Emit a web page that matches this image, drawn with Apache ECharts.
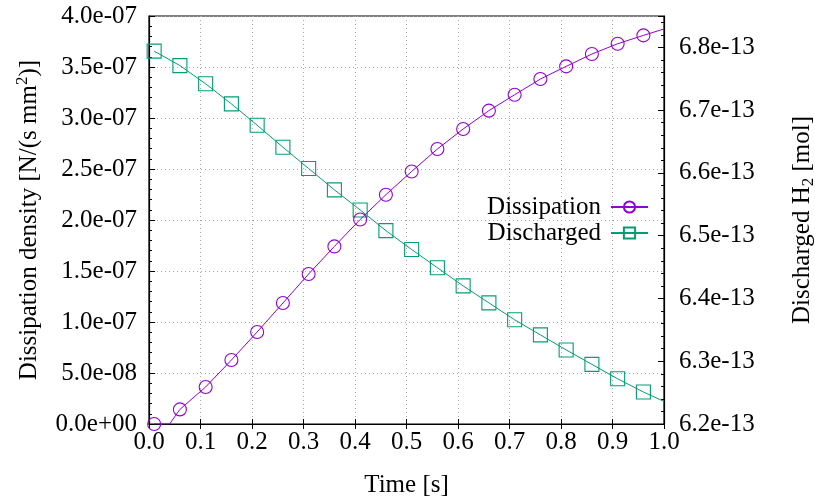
<!DOCTYPE html>
<html>
<head>
<meta charset="utf-8">
<script src="https://cdn.jsdelivr.net/npm/echarts@6/dist/echarts.min.js"></script>
<style>
  html, body { margin: 0; padding: 0; background: #fff; }
  #chart { width: 815px; height: 504px; }
</style>
</head>
<body>
<div id="chart"></div>
<script>
// Sample times with markers [s]
const markerTime = [0.01, 0.06, 0.11, 0.16, 0.21, 0.26, 0.31, 0.36, 0.41, 0.46,
                    0.51, 0.56, 0.61, 0.66, 0.71, 0.76, 0.81, 0.86, 0.91, 0.96];
// Dissipation density at the marker times [1e-7 N/(s mm^2)]
const dissipation = [0.000, 0.143, 0.363, 0.627, 0.902, 1.186, 1.471, 1.741, 2.005, 2.248,
                     2.476, 2.696, 2.892, 3.072, 3.228, 3.382, 3.506, 3.627, 3.728, 3.810];
// Discharged H2 at the marker times [1e-13 mol]
const discharged = [6.794, 6.771, 6.742, 6.710, 6.676, 6.641, 6.607, 6.573, 6.541, 6.508,
                    6.478, 6.449, 6.420, 6.393, 6.366, 6.342, 6.318, 6.295, 6.272, 6.251];
// Additional curve samples without markers: [time, value]
const dissipationExtra = [[0.04, 0.000], [1.00, 3.873]];
const dischargedExtra = [[1.00, 6.236]];

const xTicks = { min: 0, max: 1, interval: 0.1 };
const leftTicks = { min: 0, max: 4, interval: 0.5 };       // units of 1e-7
const rightTicks = { min: 6.2, max: 6.85, interval: 0.1 }; // units of 1e-13

const FONT = 'Liberation Serif';
const FS = 25;
const violet = '#9400d3';
const green = '#009e73';

function expLabel(v) {
  const s = (v * 1e-7).toExponential(1);      // e.g. "5.0e-8"
  const m = s.match(/^(-?[\d.]+)e([+-])(\d+)$/);
  if (!m) return s;
  return m[1] + 'e' + m[2] + m[3].padStart(2, '0');
}

function buildSeriesData(times, values, extra) {
  const pts = times.map((t, i) => ({ value: [t, values[i]] }));
  extra.forEach(p => pts.push({ value: p, symbol: 'none' }));
  pts.sort((a, b) => a.value[0] - b.value[0]);
  return pts;
}

// Axis titles with raised / lowered indices
const nameStyle = {
  fontFamily: FONT, fontSize: FS, color: '#000', lineHeight: 30,
  rich: {
    sup: { fontFamily: FONT, fontSize: 17, color: '#000', lineHeight: 17, verticalAlign: 'top' },
    sub: { fontFamily: FONT, fontSize: 17, color: '#000', lineHeight: 17, verticalAlign: 'bottom' }
  }
};

const gridLine = { show: true, lineStyle: { color: '#a8a8a8', type: [1, 3], width: 1 } };

const chart = echarts.init(document.getElementById('chart'), null, { renderer: 'canvas' });
chart.setOption({
  animation: false,
  backgroundColor: '#fff',
  textStyle: { fontFamily: FONT },
  grid: {
    left: 149, right: 151, top: 16, bottom: 80,
    outerBoundsMode: 'none',
    containLabel: false,
    show: true, borderColor: '#000', borderWidth: 1.2, backgroundColor: 'transparent'
  },
  legend: {
    orient: 'vertical',
    right: 166, top: 194,
    padding: 0,
    align: 'right',
    itemWidth: 37, itemHeight: 14, itemGap: 0,
    textStyle: { fontFamily: FONT, fontSize: FS, color: '#000', lineHeight: 26, padding: [0, 5, 0, 0] },
    data: ['Dissipation', 'Discharged']
  },
  xAxis: [{
    type: 'value',
    min: xTicks.min, max: xTicks.max, interval: xTicks.interval,
    name: 'Time [s]',
    nameLocation: 'middle', nameGap: 49,
    nameTextStyle: { fontFamily: FONT, fontSize: FS, color: '#000' },
    axisLine: { show: true, onZero: false, lineStyle: { color: '#000', width: 1.2 } },
    axisTick: { show: true, inside: true, length: 5, lineStyle: { color: '#000' } },
    minorTick: { show: false },
    axisLabel: { fontFamily: FONT, fontSize: FS, color: '#000', margin: 6,
                 formatter: v => v.toFixed(1) },
    splitLine: gridLine
  }, {
    type: 'value', position: 'top',
    min: xTicks.min, max: xTicks.max, interval: xTicks.interval,
    axisLine: { show: false },
    axisTick: { show: true, inside: true, length: 5, lineStyle: { color: '#000' } },
    axisLabel: { show: false },
    splitLine: { show: false }
  }],
  yAxis: [{
    type: 'value',
    min: leftTicks.min, max: leftTicks.max, interval: leftTicks.interval,
    name: 'Dissipation density [N/(s mm{sup|2})]',
    nameLocation: 'middle', nameRotate: 90, nameGap: 105,
    nameTextStyle: nameStyle,
    axisLine: { show: true, onZero: false, lineStyle: { color: '#000', width: 1.2 } },
    axisTick: { show: true, inside: true, length: 6, lineStyle: { color: '#000' } },
    minorTick: { show: true, splitNumber: 5, length: 3, lineStyle: { color: '#000' } },
    axisLabel: { fontFamily: FONT, fontSize: FS, color: '#000', margin: 12, formatter: expLabel },
    splitLine: gridLine
  }, {
    type: 'value',
    position: 'right',
    min: rightTicks.min, max: rightTicks.max, interval: rightTicks.interval,
    name: 'Discharged H{sub|2} [mol]',
    nameLocation: 'middle', nameRotate: 90, nameGap: 123,
    nameTextStyle: nameStyle,
    axisLine: { show: true, onZero: false, lineStyle: { color: '#000', width: 1.2 } },
    axisTick: { show: true, inside: true, length: 6, lineStyle: { color: '#000' } },
    minorTick: { show: true, splitNumber: 5, length: 3, lineStyle: { color: '#000' } },
    axisLabel: { fontFamily: FONT, fontSize: FS, color: '#000', margin: 15,
                 showMaxLabel: false, formatter: v => v.toFixed(1) + 'e-13' },
    splitLine: { show: false }
  }],
  series: [{
    name: 'Dissipation',
    type: 'line',
    xAxisIndex: 0, yAxisIndex: 0,
    data: buildSeriesData(markerTime, dissipation, dissipationExtra),
    symbol: 'circle', symbolSize: 13,
    showAllSymbol: true,
    lineStyle: { color: violet, width: 1 },
    itemStyle: { color: 'rgba(0,0,0,0)', borderColor: violet, borderWidth: 1.1 },
    emphasis: { disabled: true },
    z: 3
  }, {
    name: 'Discharged',
    type: 'line',
    xAxisIndex: 0, yAxisIndex: 1,
    data: buildSeriesData(markerTime, discharged, dischargedExtra),
    symbol: 'rect', symbolSize: 14,
    showAllSymbol: true,
    lineStyle: { color: green, width: 1 },
    itemStyle: { color: 'rgba(0,0,0,0)', borderColor: green, borderWidth: 1.1 },
    emphasis: { disabled: true },
    z: 2
  }]
});
</script>
</body>
</html>
